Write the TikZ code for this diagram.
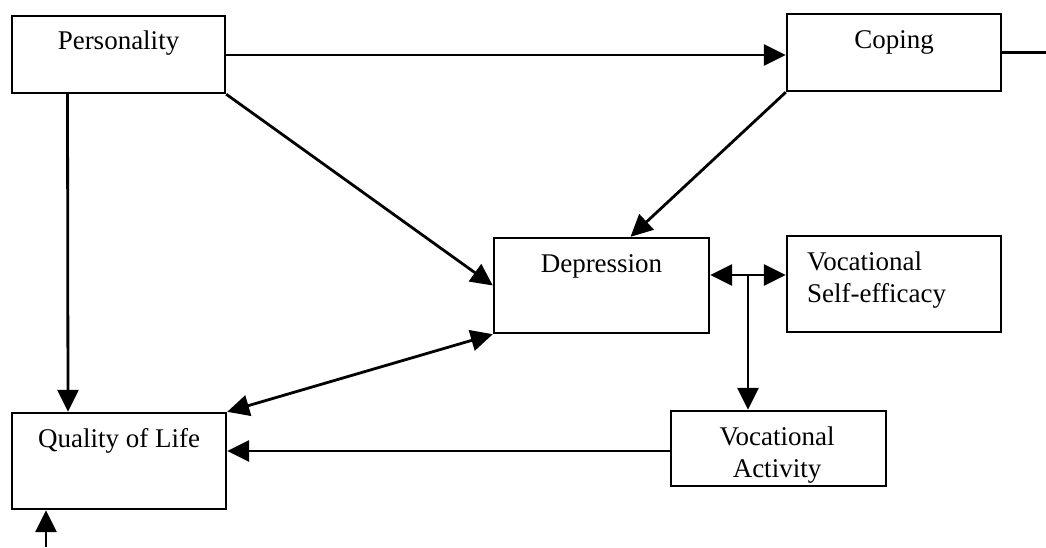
\documentclass[tikz,border=0pt]{standalone}
\usepackage{fontspec}
\setmainfont{Liberation Serif}
\usetikzlibrary{arrows.meta}
\begin{document}
\begin{tikzpicture}[x=1pt,y=-1pt,
  box/.style={draw,line width=2.4pt,rectangle,inner sep=0pt},
  lbl/.style={font=\fontsize{27}{32}\selectfont,inner sep=0pt},
  conn/.style={line width=2.8pt,-{Triangle[length=22pt,width=21pt]}},
  dconn/.style={line width=2.8pt,{Triangle[length=22pt,width=21pt]}-{Triangle[length=22pt,width=21pt]}},
  plain/.style={line width=2.8pt}]
\useasboundingbox (0,0) rectangle (1046,547);
% boxes
\node[box,minimum width=213pt,minimum height=77pt] (p) at (118.5,54.5) {};
\node[box,minimum width=214pt,minimum height=77pt] (c) at (894,52.5) {};
\node[box,minimum width=215pt,minimum height=95pt] (d) at (601.5,285.5) {};
\node[box,minimum width=214pt,minimum height=96pt] (v) at (894,284) {};
\node[box,minimum width=215pt,minimum height=75pt] (va) at (778.5,448.5) {};
\node[box,minimum width=214pt,minimum height=96pt] (q) at (119,461) {};
% labels
\node[lbl] (pt) at (118.5,43) {Personality};
\node[lbl] (ct) at (894,42) {Coping};
\node[lbl] (dt) at (601.5,266) {Depression};
\node[lbl,align=left,anchor=west] (vt) at (807,280) {Vocational\\Self-efficacy};
\node[lbl,align=center] (vat) at (777,455) {Vocational\\Activity};
\node[lbl] (qt) at (119,441) {Quality of Life};
% coordinates
\coordinate (cr) at (1046,52.5);
\coordinate (j) at (748,275);
\coordinate (bot) at (46,547);
% connectors
\draw[conn] (p.east |- 0,55) -- (c.west |- 0,55);
\draw[plain] (c.east) -- (cr);
\draw[conn] (p.south east) -- (d.west);
\draw[conn] (c.south west) -- ([xshift=29pt]d.north);
\draw[conn] ([xshift=-51pt]p.south) -- ([xshift=-51pt]q.north);
\draw[dconn] (q.north east) -- (d.south west);
\draw[dconn] (j -| d.east) -- (j -| v.west);
\draw[conn] (j) -- (j |- va.north);
\draw[conn] (va.west |- 0,451) -- (q.east |- 0,451);
\draw[conn] (bot) -- (bot |- q.south);
\end{tikzpicture}
\end{document}
